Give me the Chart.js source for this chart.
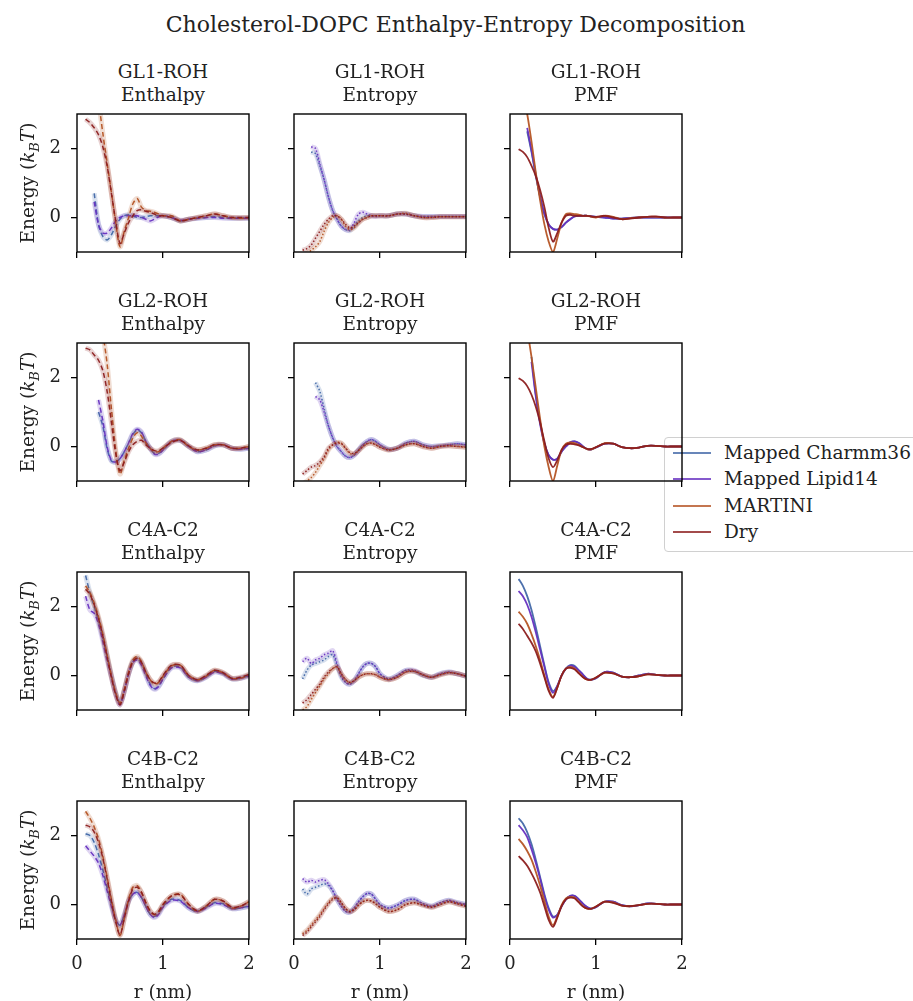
<!DOCTYPE html>
<html>
<head>
<meta charset="utf-8">
<script src="https://cdn.jsdelivr.net/npm/chart.js@4.4.0/dist/chart.umd.min.js"></script>
<style>
body { margin:0; background:#fff; font-family:"DejaVu Serif", serif; color:#222; }
#fig { position:relative; width:913px; height:1001px; overflow:hidden; }
.sub { position:absolute; }
.ttl { position:absolute; width:172px; text-align:center; font-size:18.5px; line-height:23px; white-space:nowrap; }
.ylab { position:absolute; width:170px; height:24px; line-height:24px; text-align:center; font-size:18.5px; transform:rotate(-90deg); white-space:nowrap; }
.xlab { position:absolute; width:172px; text-align:center; font-size:18.5px; line-height:24px; }
#suptitle { position:absolute; left:0; width:911px; top:12px; text-align:center; font-size:22px; line-height:26px; }
#legend { position:absolute; left:664px; top:437px; width:262px; height:113px; border:1px solid #d0d0d0; border-radius:4px; background:rgba(255,255,255,0.8); }
.lg { position:absolute; left:0; height:26px; width:260px; }
.lg span.ln { position:absolute; left:8px; width:38px; top:12px; height:0; border-top:2px solid; opacity:0.8; }
.lg span.tx { position:absolute; left:59px; top:0; line-height:26px; font-size:18.5px; white-space:nowrap; }
</style>
</head>
<body>
<div id="fig">
  <div id="suptitle">Cholesterol-DOPC Enthalpy-Entropy Decomposition</div>
  <div id="legend"></div>
</div>
<script>
// r grid (nm)
const R = [0.1,0.15,0.2,0.25,0.3,0.35,0.4,0.45,0.5,0.55,0.6,0.65,0.7,0.75,0.8,0.85,0.9,0.95,1.0,1.1,1.2,1.3,1.4,1.5,1.6,1.7,1.8,1.9,2.0];

const PAIRS = ['GL1-ROH', 'GL2-ROH', 'C4A-C2', 'C4B-C2'];
const TERMS = ['Enthalpy', 'Entropy', 'PMF'];
const MODELS = ['Mapped Charmm36', 'Mapped Lipid14', 'MARTINI', 'Dry'];

// GL1-ROH
const gl1_enth_charmm = [null,null,0.7,-0.2,-0.55,-0.65,-0.5,-0.25,-0.05,0.05,0.08,0.05,0.0,0.0,0.02,0.05,0.05,0.05,0.05,0.0,-0.1,-0.05,-0.02,0.0,0.02,0.0,-0.02,-0.02,-0.02];
const gl1_enth_lipid = [null,null,0.45,-0.2,-0.45,-0.45,-0.3,-0.1,0.0,0.05,0.05,0.05,0.05,0.0,-0.05,-0.1,-0.05,0.02,0.05,0.0,-0.08,-0.05,-0.02,0.0,0.0,-0.02,-0.02,-0.02,-0.02];
const gl1_enth_martini = [null,null,null,3.4,2.45,1.58,0.73,-0.14,-0.85,-0.4,0.0,0.4,0.55,0.3,0.2,0.18,0.15,0.1,0.05,0.05,-0.1,-0.05,0.0,0.05,0.1,0.05,0.0,-0.02,0.0];
const gl1_enth_dry = [2.85,2.75,2.6,2.4,2.05,1.5,0.7,-0.1,-0.75,-0.45,-0.15,0.05,0.2,0.22,0.18,0.15,0.1,0.05,0.05,0.0,-0.1,-0.05,0.0,0.05,0.1,0.05,0.0,0.0,0.0];

const gl1_entr_charmm = [null,null,1.9,1.85,1.5,1.1,0.6,0.2,-0.05,-0.25,-0.35,-0.38,-0.25,-0.1,0.0,0.05,0.05,0.05,0.05,0.05,0.1,0.1,0.05,0.03,0.03,0.03,0.03,0.03,0.03];
const gl1_entr_lipid = [null,null,2.05,2.0,1.55,1.1,0.6,0.2,-0.05,-0.25,-0.35,-0.35,-0.15,0.1,0.15,0.1,0.05,0.03,0.05,0.05,0.1,0.1,0.05,0.03,0.03,0.03,0.03,0.03,0.03];
const gl1_entr_martini = [-1.2,-1.05,-0.95,-0.85,-0.7,-0.4,-0.15,0.0,0.05,-0.05,-0.25,-0.35,-0.3,-0.15,-0.05,0.0,0.05,0.05,0.05,0.05,0.1,0.12,0.05,0.0,0.0,0.02,0.02,0.02,0.02];
const gl1_entr_dry = [-0.95,-0.9,-0.8,-0.6,-0.4,-0.2,-0.05,0.05,0.05,-0.05,-0.2,-0.3,-0.25,-0.15,-0.05,0.0,0.05,0.05,0.05,0.05,0.1,0.1,0.05,0.0,0.0,0.02,0.02,0.02,0.02];

const gl1_pmf_charmm = [null,null,2.5,1.9,1.2,0.6,0.1,-0.2,-0.33,-0.35,-0.28,-0.15,-0.05,0.03,0.05,0.05,0.05,0.03,0.02,0.0,-0.03,-0.03,-0.01,0.0,0.0,0.0,0.0,0.0,0.0];
const gl1_pmf_lipid = [null,null,2.6,1.95,1.25,0.6,0.1,-0.2,-0.33,-0.35,-0.28,-0.15,-0.05,0.03,0.05,0.05,0.05,0.03,0.02,0.0,-0.03,-0.03,-0.01,0.0,0.0,0.0,0.0,0.0,0.0];
const gl1_pmf_martini = [null,3.6,3.0,2.2,1.3,0.5,-0.2,-0.7,-1.0,-0.6,-0.15,0.1,0.12,0.1,0.08,0.05,0.05,0.02,0.0,0.05,0.02,-0.05,-0.02,0.0,0.02,0.02,0.0,0.0,0.0];
const gl1_pmf_dry = [1.98,1.9,1.75,1.5,1.2,0.8,0.3,-0.3,-0.7,-0.45,-0.15,0.05,0.08,0.05,0.05,0.05,0.05,0.03,0.02,0.05,0.0,-0.05,-0.03,0.0,0.02,0.03,0.0,0.0,0.0];

// GL2-ROH
const gl2_enth_charmm = [null,null,null,1.0,0.6,-0.05,-0.42,-0.45,-0.35,-0.15,0.1,0.35,0.48,0.4,0.15,-0.05,-0.2,-0.2,-0.1,0.15,0.18,0.0,-0.15,-0.1,0.02,0.05,-0.05,-0.08,-0.05];
const gl2_enth_lipid = [null,null,null,1.35,0.75,0.0,-0.4,-0.45,-0.35,-0.15,0.1,0.38,0.5,0.42,0.15,-0.05,-0.22,-0.22,-0.1,0.15,0.18,0.0,-0.15,-0.1,0.02,0.05,-0.05,-0.08,-0.05];
const gl2_enth_martini = [null,null,null,null,3.3,2.4,1.1,-0.1,-0.8,-0.4,-0.05,0.25,0.4,0.3,0.1,-0.05,-0.15,-0.15,-0.05,0.15,0.2,0.0,-0.1,-0.05,0.05,0.05,-0.05,-0.05,0.0];
const gl2_enth_dry = [2.85,2.8,2.65,2.5,2.2,1.6,0.7,-0.2,-0.7,-0.45,-0.15,0.05,0.15,0.18,0.05,-0.05,-0.12,-0.12,-0.05,0.12,0.18,0.02,-0.1,-0.05,0.05,0.05,-0.05,-0.05,0.0];

const gl2_entr_charmm = [null,null,null,1.85,1.6,1.1,0.6,0.25,0.0,-0.15,-0.28,-0.32,-0.25,-0.1,0.05,0.15,0.2,0.15,0.05,-0.08,-0.05,0.1,0.15,0.05,0.0,0.02,0.05,0.08,0.05];
const gl2_entr_lipid = [null,null,null,1.45,1.35,1.0,0.6,0.25,0.0,-0.15,-0.28,-0.32,-0.25,-0.1,0.05,0.15,0.2,0.15,0.05,-0.08,-0.05,0.1,0.15,0.05,0.0,0.02,0.05,0.08,0.05];
const gl2_entr_martini = [-1.1,-1.0,-0.9,-0.75,-0.55,-0.35,-0.1,0.05,0.12,0.1,-0.05,-0.2,-0.22,-0.12,0.0,0.08,0.1,0.05,-0.02,-0.1,-0.05,0.05,0.08,0.0,-0.05,0.0,0.02,0.0,-0.02];
const gl2_entr_dry = [-0.8,-0.7,-0.6,-0.55,-0.45,-0.3,-0.05,0.05,0.1,0.08,-0.05,-0.18,-0.2,-0.12,0.0,0.08,0.1,0.05,-0.02,-0.1,-0.05,0.05,0.08,0.0,-0.05,0.0,0.02,0.0,-0.02];

const gl2_pmf_charmm = [null,null,null,2.6,1.5,0.7,0.1,-0.25,-0.38,-0.35,-0.15,0.0,0.12,0.15,0.1,0.0,-0.08,-0.08,-0.03,0.08,0.08,-0.02,-0.05,-0.03,0.02,0.02,0.0,0.0,0.0];
const gl2_pmf_lipid = [null,null,null,2.45,1.45,0.65,0.08,-0.25,-0.38,-0.35,-0.15,0.0,0.12,0.15,0.1,0.0,-0.08,-0.08,-0.03,0.08,0.08,-0.02,-0.05,-0.03,0.02,0.02,0.0,0.0,0.0];
const gl2_pmf_martini = [null,null,3.4,2.6,1.7,0.8,0.0,-0.6,-1.0,-0.55,-0.1,0.08,0.12,0.1,0.05,-0.02,-0.08,-0.08,-0.02,0.1,0.08,-0.02,-0.05,-0.03,0.02,0.02,0.0,0.0,0.0];
const gl2_pmf_dry = [1.98,1.9,1.75,1.5,1.15,0.7,0.15,-0.35,-0.6,-0.4,-0.1,0.05,0.08,0.06,0.03,-0.02,-0.07,-0.07,-0.02,0.08,0.08,-0.02,-0.05,-0.03,0.02,0.02,0.0,0.0,0.0];

// C4A-C2
const c4a_enth_charmm = [2.9,2.4,2.0,1.6,1.1,0.55,0.0,-0.5,-0.8,-0.45,0.05,0.4,0.5,0.35,0.05,-0.25,-0.38,-0.3,-0.1,0.25,0.25,-0.05,-0.15,-0.05,0.12,0.05,-0.1,-0.08,0.0];
const c4a_enth_lipid = [2.3,1.9,1.8,1.5,1.0,0.45,-0.05,-0.55,-0.85,-0.45,0.05,0.38,0.45,0.3,0.0,-0.28,-0.4,-0.32,-0.1,0.22,0.22,-0.05,-0.15,-0.05,0.1,0.05,-0.1,-0.08,-0.02];
const c4a_enth_martini = [2.6,2.4,2.1,1.7,1.2,0.6,0.0,-0.5,-0.8,-0.4,0.1,0.45,0.55,0.4,0.1,-0.12,-0.25,-0.2,-0.02,0.28,0.3,0.0,-0.12,-0.02,0.15,0.08,-0.08,-0.08,0.02];
const c4a_enth_dry = [2.5,2.35,2.05,1.65,1.15,0.55,-0.05,-0.55,-0.85,-0.45,0.05,0.4,0.5,0.38,0.1,-0.12,-0.22,-0.18,0.0,0.3,0.3,0.0,-0.12,0.0,0.15,0.08,-0.08,-0.05,0.03];

const c4a_entr_charmm = [-0.1,0.15,0.3,0.35,0.4,0.45,0.55,0.6,0.3,-0.05,-0.2,-0.25,-0.15,0.05,0.25,0.35,0.35,0.25,0.05,-0.1,0.0,0.15,0.12,0.0,-0.05,0.05,0.1,0.05,-0.02];
const c4a_entr_lipid = [0.4,0.5,0.35,0.45,0.5,0.6,0.65,0.72,0.35,0.0,-0.2,-0.25,-0.15,0.05,0.25,0.35,0.35,0.25,0.05,-0.1,0.0,0.15,0.15,0.02,-0.05,0.05,0.1,0.05,-0.02];
const c4a_entr_martini = [-1.0,-0.9,-0.7,-0.5,-0.3,-0.1,0.05,0.2,0.25,0.05,-0.12,-0.2,-0.15,-0.05,0.02,0.05,0.05,0.02,-0.05,-0.12,-0.05,0.1,0.12,0.02,-0.05,0.02,0.08,0.05,-0.02];
const c4a_entr_dry = [-0.8,-0.7,-0.55,-0.4,-0.25,-0.05,0.1,0.2,0.25,0.05,-0.12,-0.2,-0.15,-0.05,0.02,0.05,0.05,0.02,-0.05,-0.12,-0.05,0.1,0.12,0.02,-0.05,0.02,0.08,0.05,-0.02];

const c4a_pmf_charmm = [2.8,2.6,2.3,1.9,1.4,0.85,0.3,-0.2,-0.45,-0.3,0.0,0.2,0.3,0.28,0.15,0.02,-0.1,-0.12,-0.08,0.1,0.08,-0.03,-0.05,0.0,0.05,0.02,0.0,0.0,0.0];
const c4a_pmf_lipid = [2.45,2.3,2.05,1.7,1.25,0.75,0.25,-0.25,-0.5,-0.3,0.0,0.2,0.28,0.25,0.15,0.02,-0.1,-0.12,-0.08,0.1,0.08,-0.03,-0.05,0.0,0.05,0.02,0.0,0.0,0.0];
const c4a_pmf_martini = [1.85,1.7,1.5,1.2,0.85,0.45,0.0,-0.4,-0.62,-0.35,0.0,0.2,0.25,0.2,0.08,-0.05,-0.12,-0.12,-0.06,0.08,0.06,-0.03,-0.05,-0.02,0.03,0.02,0.0,0.0,0.0];
const c4a_pmf_dry = [1.5,1.35,1.15,0.95,0.7,0.35,-0.05,-0.45,-0.65,-0.35,0.0,0.2,0.22,0.18,0.06,-0.05,-0.12,-0.12,-0.06,0.08,0.06,-0.03,-0.05,-0.02,0.03,0.02,0.0,0.0,0.0];

// C4B-C2
const c4b_enth_charmm = [2.05,2.0,1.8,1.45,1.0,0.5,0.0,-0.45,-0.6,-0.3,0.1,0.3,0.35,0.2,-0.05,-0.28,-0.35,-0.25,-0.05,0.15,0.12,-0.1,-0.2,-0.08,0.05,0.02,-0.12,-0.1,-0.05];
const c4b_enth_lipid = [1.7,1.55,1.4,1.2,0.85,0.4,-0.05,-0.45,-0.6,-0.3,0.1,0.3,0.35,0.2,-0.05,-0.28,-0.38,-0.28,-0.08,0.12,0.1,-0.1,-0.2,-0.1,0.03,0.0,-0.12,-0.1,-0.05];
const c4b_enth_martini = [2.7,2.5,2.25,1.9,1.4,0.8,0.15,-0.45,-0.9,-0.4,0.15,0.5,0.55,0.35,0.05,-0.2,-0.3,-0.2,0.0,0.25,0.3,0.0,-0.2,-0.05,0.15,0.1,-0.1,-0.05,0.08];
const c4b_enth_dry = [2.3,2.25,2.1,1.8,1.35,0.75,0.1,-0.5,-0.88,-0.4,0.1,0.45,0.5,0.35,0.05,-0.18,-0.28,-0.2,0.0,0.25,0.28,0.0,-0.18,-0.05,0.15,0.1,-0.08,-0.05,0.08];

const c4b_entr_charmm = [0.45,0.3,0.45,0.5,0.55,0.6,0.55,0.4,0.15,-0.05,-0.2,-0.22,-0.1,0.08,0.22,0.32,0.3,0.15,0.0,-0.1,-0.02,0.12,0.15,0.02,-0.05,0.05,0.12,0.05,0.0];
const c4b_entr_lipid = [0.75,0.65,0.7,0.65,0.7,0.72,0.6,0.4,0.15,-0.05,-0.2,-0.22,-0.1,0.08,0.22,0.32,0.3,0.15,0.0,-0.1,-0.02,0.12,0.15,0.02,-0.05,0.05,0.12,0.05,0.0];
const c4b_entr_martini = [-0.85,-0.75,-0.6,-0.45,-0.3,-0.12,0.05,0.18,0.2,0.05,-0.12,-0.2,-0.15,-0.02,0.08,0.12,0.1,0.02,-0.08,-0.2,-0.15,0.0,0.05,-0.02,-0.08,0.0,0.08,0.02,-0.05];
const c4b_entr_dry = [-0.9,-0.8,-0.65,-0.5,-0.35,-0.15,0.02,0.15,0.2,0.05,-0.12,-0.2,-0.15,-0.02,0.08,0.12,0.1,0.02,-0.08,-0.2,-0.15,0.0,0.05,-0.02,-0.08,0.0,0.08,0.02,-0.05];

const c4b_pmf_charmm = [2.5,2.35,2.1,1.75,1.3,0.8,0.3,-0.1,-0.35,-0.3,-0.05,0.15,0.25,0.25,0.15,0.02,-0.08,-0.12,-0.08,0.08,0.08,-0.02,-0.05,-0.02,0.03,0.02,0.0,0.0,0.0];
const c4b_pmf_lipid = [2.3,2.15,1.95,1.6,1.2,0.75,0.25,-0.15,-0.38,-0.3,-0.05,0.15,0.25,0.25,0.15,0.02,-0.08,-0.12,-0.08,0.08,0.08,-0.02,-0.05,-0.02,0.03,0.02,0.0,0.0,0.0];
const c4b_pmf_martini = [1.9,1.75,1.55,1.3,0.95,0.55,0.1,-0.35,-0.6,-0.35,-0.02,0.18,0.22,0.2,0.08,-0.05,-0.12,-0.12,-0.06,0.08,0.06,-0.03,-0.05,-0.02,0.02,0.02,0.0,0.0,0.0];
const c4b_pmf_dry = [1.4,1.28,1.12,0.9,0.65,0.35,-0.05,-0.45,-0.65,-0.38,-0.05,0.15,0.2,0.18,0.06,-0.06,-0.12,-0.12,-0.06,0.08,0.05,-0.03,-0.05,-0.02,0.02,0.02,0.0,0.0,0.0];

const X_TICKS = [0, 1, 2];
const Y_TICKS = [0, 2];

// table of panels built from the arrays above
const PANEL_DATA = [
  [[gl1_enth_charmm, gl1_enth_lipid, gl1_enth_martini, gl1_enth_dry],
   [gl1_entr_charmm, gl1_entr_lipid, gl1_entr_martini, gl1_entr_dry],
   [gl1_pmf_charmm, gl1_pmf_lipid, gl1_pmf_martini, gl1_pmf_dry]],
  [[gl2_enth_charmm, gl2_enth_lipid, gl2_enth_martini, gl2_enth_dry],
   [gl2_entr_charmm, gl2_entr_lipid, gl2_entr_martini, gl2_entr_dry],
   [gl2_pmf_charmm, gl2_pmf_lipid, gl2_pmf_martini, gl2_pmf_dry]],
  [[c4a_enth_charmm, c4a_enth_lipid, c4a_enth_martini, c4a_enth_dry],
   [c4a_entr_charmm, c4a_entr_lipid, c4a_entr_martini, c4a_entr_dry],
   [c4a_pmf_charmm, c4a_pmf_lipid, c4a_pmf_martini, c4a_pmf_dry]],
  [[c4b_enth_charmm, c4b_enth_lipid, c4b_enth_martini, c4b_enth_dry],
   [c4b_entr_charmm, c4b_entr_lipid, c4b_entr_martini, c4b_entr_dry],
   [c4b_pmf_charmm, c4b_pmf_lipid, c4b_pmf_martini, c4b_pmf_dry]]
];

const COLORS = ['66,104,168', '102,48,192', '181,84,36', '140,30,30'];

// layout
const COL_LEFT = [77, 294, 510];
const ROW_TOP = [114, 343, 572, 801];
const PW = 172, PH = 138;
const PAD_L = 45, PAD_T = 5, PAD_R = 8, PAD_B = 45;
const FONT = 'DejaVu Serif';

const fig = document.getElementById('fig');

const framePlugin = {
  id: 'frame',
  afterDraw(chart) {
    const a = chart.chartArea;
    const ctx = chart.ctx;
    ctx.save();
    ctx.strokeStyle = '#000';
    ctx.lineWidth = 1.4;
    ctx.strokeRect(a.left, a.top, a.right - a.left, a.bottom - a.top);
    ctx.restore();
  }
};

function toPoints(arr) {
  return R.map((r, i) => ({x: r, y: arr[i]}));
}

function buildDatasets(arrays, term) {
  let list = [];
  arrays.forEach((arr, m) => {
    const c = COLORS[m];
    if (term === 'PMF') {
      list.push({data: toPoints(arr), borderColor: `rgba(${c},0.95)`, borderWidth: 1.8});
    } else {
      list.push({data: toPoints(arr), borderColor: `rgba(${c},0.2)`, borderWidth: 5});
      list.push({data: toPoints(arr), borderColor: `rgba(${c},0.95)`, borderWidth: 1.5,
                 borderDash: term === 'Enthalpy' ? [5, 3] : [1.5, 2]});
    }
  });
  // later entries on top
  list.forEach((d, i) => {
    d.order = list.length - i;
    d.pointRadius = 0;
    d.fill = false;
    d.tension = 0.3;
    d.clip = 0;
  });
  return list;
}

function makeAxis(min, max, ticks, showLabels, isX) {
  return {
    type: 'linear', min: min, max: max,
    afterBuildTicks: ax => { ax.ticks = ticks.map(v => ({value: v})); },
    afterFit: ax => {
      if (isX) ax.height = PAD_B; else ax.width = PAD_L;
      ax.paddingLeft = 0; ax.paddingRight = 0; ax.paddingTop = 0; ax.paddingBottom = 0;
    },
    grid: {drawOnChartArea: false, drawTicks: true, tickLength: 6, color: '#000', lineWidth: 1.3},
    border: {display: false},
    ticks: {
      padding: isX ? 9 : 10,
      color: '#222',
      font: {family: FONT, size: 18},
      maxRotation: 0, autoSkip: false,
      callback: v => showLabels ? String(v) : ''
    }
  };
}

function makePanel(row, col) {
  const term = TERMS[col];
  const left = COL_LEFT[col], top = ROW_TOP[row];

  const cv = document.createElement('canvas');
  cv.className = 'sub';
  cv.width = PAD_L + PW + PAD_R;
  cv.height = PAD_T + PH + PAD_B;
  cv.style.left = (left - PAD_L) + 'px';
  cv.style.top = (top - PAD_T) + 'px';
  fig.appendChild(cv);

  const ttl = document.createElement('div');
  ttl.className = 'ttl';
  ttl.style.left = left + 'px';
  ttl.style.top = (top - 54) + 'px';
  ttl.innerHTML = PAIRS[row] + '<br>' + term;
  fig.appendChild(ttl);

  new Chart(cv, {
    type: 'line',
    data: {datasets: buildDatasets(PANEL_DATA[row][col], term)},
    options: {
      responsive: false,
      animation: false,
      devicePixelRatio: 1,
      layout: {padding: {top: PAD_T, right: PAD_R, left: 0, bottom: 0}},
      plugins: {legend: {display: false}, tooltip: {enabled: false}},
      scales: {
        x: makeAxis(0, 2, X_TICKS, row === PAIRS.length - 1, true),
        y: makeAxis(-1, 3, Y_TICKS, col === 0, false)
      }
    },
    plugins: [framePlugin]
  });
}

for (let r = 0; r < PAIRS.length; r++) {
  for (let c = 0; c < TERMS.length; c++) makePanel(r, c);

  const yl = document.createElement('div');
  yl.className = 'ylab';
  yl.style.left = (28 - 85) + 'px';
  yl.style.top = (ROW_TOP[r] + PH / 2 - 12) + 'px';
  yl.innerHTML = 'Energy (<i>k</i><sub style="font-size:13px"><i>B</i></sub><i>T</i>)';
  fig.appendChild(yl);
}

COL_LEFT.forEach(left => {
  const xl = document.createElement('div');
  xl.className = 'xlab';
  xl.style.left = left + 'px';
  xl.style.top = '980px';
  xl.textContent = 'r (nm)';
  fig.appendChild(xl);
});

// legend
const legend = document.getElementById('legend');
MODELS.forEach((name, m) => {
  const item = document.createElement('div');
  item.className = 'lg';
  item.style.top = (2 + m * 26.3) + 'px';
  item.innerHTML = `<span class="ln" style="border-color:rgb(${COLORS[m]})"></span><span class="tx">${name}</span>`;
  legend.appendChild(item);
});
</script>
</body>
</html>
